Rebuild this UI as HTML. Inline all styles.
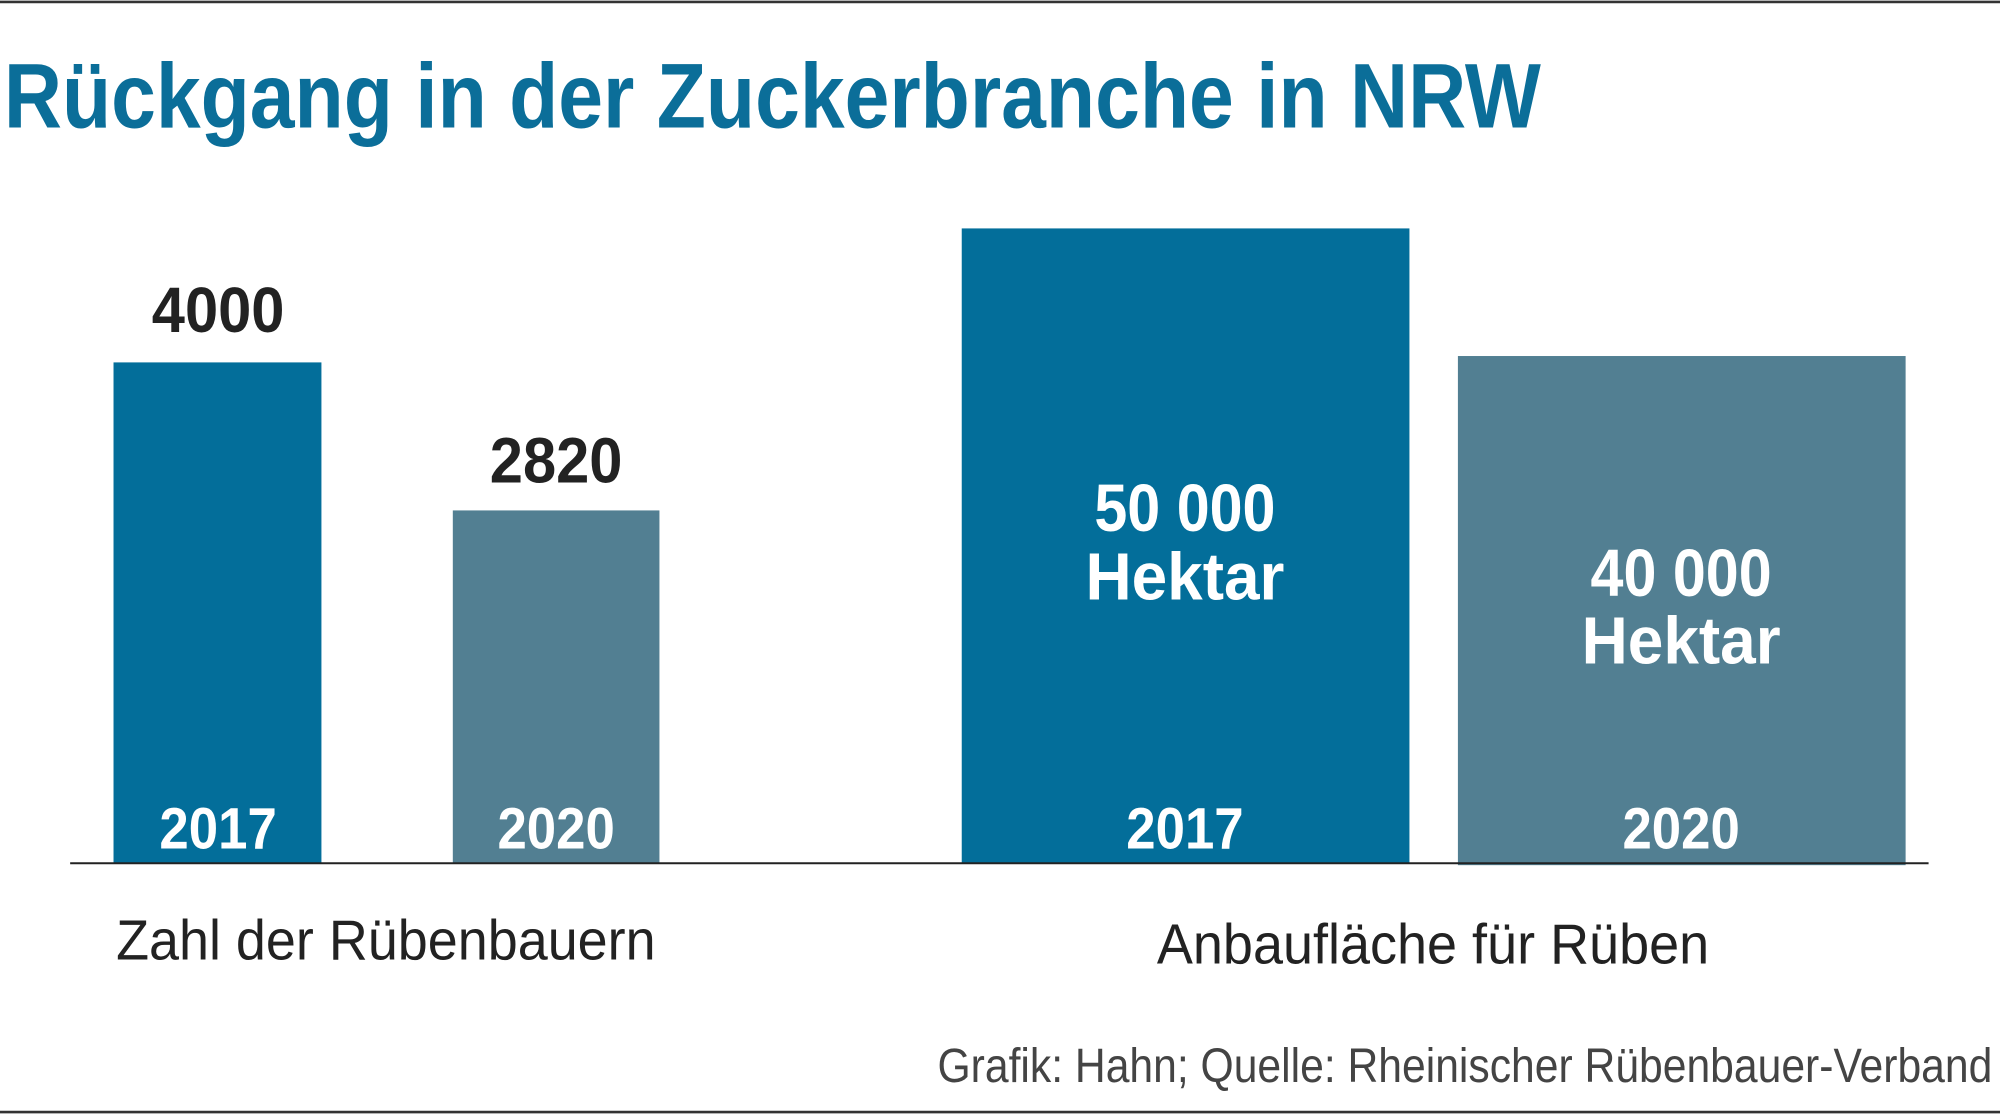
<!DOCTYPE html>
<html><head><meta charset="utf-8"><style>
html,body{margin:0;padding:0;background:#fff;}
svg{display:block;}
text{font-family:"Liberation Sans",sans-serif;}
</style></head><body>
<svg width="2000" height="1114" viewBox="0 0 1568 873" preserveAspectRatio="none" xmlns="http://www.w3.org/2000/svg">
<rect x="0" y="0" width="1568" height="873" fill="#fff"/>
<line x1="0" y1="1.5" x2="1568" y2="1.5" stroke="#333" stroke-width="2"/>
<line x1="0" y1="871.5" x2="1568" y2="871.5" stroke="#333" stroke-width="2"/>
<text x="3" y="100" font-size="72" font-weight="bold" fill="#0b6e99" textLength="1205" lengthAdjust="spacingAndGlyphs">Rückgang in der Zuckerbranche in NRW</text>
<rect x="89" y="284" width="163" height="392" fill="#036e9a"/>
<rect x="355" y="400" width="162" height="276" fill="#527f92"/>
<rect x="754" y="179" width="351" height="497" fill="#036e9a"/>
<rect x="1143" y="279" width="351" height="399" fill="#527f92"/>
<line x1="55" y1="676.5" x2="1512" y2="676.5" stroke="#222" stroke-width="1.5"/>
<g font-weight="bold" text-anchor="middle">
<text x="171" y="260" font-size="50" fill="#222" textLength="104" lengthAdjust="spacingAndGlyphs">4000</text>
<text x="436" y="378" font-size="50" fill="#222" textLength="104" lengthAdjust="spacingAndGlyphs">2820</text>
<g fill="#fff" font-size="46">
<text x="171" y="665" textLength="92" lengthAdjust="spacingAndGlyphs">2017</text>
<text x="436" y="665" textLength="92" lengthAdjust="spacingAndGlyphs">2020</text>
<text x="929" y="665" textLength="92" lengthAdjust="spacingAndGlyphs">2017</text>
<text x="1318" y="665" textLength="92" lengthAdjust="spacingAndGlyphs">2020</text>
</g>
<g fill="#fff" font-size="52">
<text x="929" y="416" textLength="142" lengthAdjust="spacingAndGlyphs">50 000</text>
<text x="929" y="470" textLength="156" lengthAdjust="spacingAndGlyphs">Hektar</text>
<text x="1318" y="467" textLength="142" lengthAdjust="spacingAndGlyphs">40 000</text>
<text x="1318" y="520" textLength="156" lengthAdjust="spacingAndGlyphs">Hektar</text>
</g>
</g>
<text x="91" y="752" font-size="44" fill="#222" textLength="423" lengthAdjust="spacingAndGlyphs">Zahl der Rübenbauern</text>
<text x="907" y="755" font-size="44" fill="#222" textLength="433" lengthAdjust="spacingAndGlyphs">Anbaufläche für Rüben</text>
<text x="735" y="848" font-size="38" fill="#444" textLength="827" lengthAdjust="spacingAndGlyphs">Grafik: Hahn; Quelle: Rheinischer Rübenbauer-Verband</text>
</svg>
</body></html>
